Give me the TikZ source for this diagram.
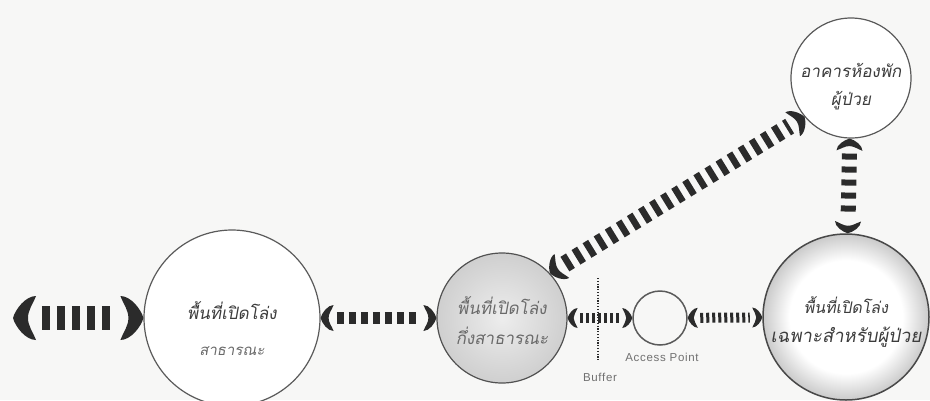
\documentclass[tikz,border=0pt]{standalone}
\usepackage{fontspec}
\setmainfont{Liberation Sans}
\newfontfamily\thaifont[Script=Thai,FakeSlant=0.18]{Loma}
\newfontfamily\tagfont[LetterSpace=6]{Liberation Sans}
\usetikzlibrary{arrows.meta,calc}

\definecolor{paper}{HTML}{F7F7F6}
\definecolor{rim}{HTML}{5A5A5A}
\definecolor{barcol}{HTML}{2B2B2B}
\definecolor{inkA}{HTML}{3C3C3C}
\definecolor{inkB}{HTML}{6A6A6A}
\definecolor{labelgray}{HTML}{707070}
\definecolor{shadeIn}{HTML}{EDEDED}
\definecolor{shadeOut}{HTML}{CFCFCF}
\definecolor{glowOut}{HTML}{CACACA}

% soft grey disc, lighter in the middle
\pgfdeclareradialshading{semidisc}{\pgfpoint{0bp}{0bp}}{%
  color(0bp)=(shadeIn); color(25bp)=(shadeOut); color(50bp)=(shadeOut)}
% white disc with a grey rim glow
\pgfdeclareradialshading{rimglow}{\pgfpoint{0bp}{0bp}}{%
  color(0bp)=(white); color(17bp)=(white); color(25bp)=(glowOut); color(50bp)=(glowOut)}

% crescent-shaped end cap for the dashed links
\pgfdeclarearrow{
  name = Crescent,
  parameters = {\the\pgfarrowlength,\the\pgfarrowwidth,\the\pgfarrowinset},
  setup code = {
    \pgfarrowssettipend{0pt}
    \pgfarrowssetlineend{-1.25\pgfarrowlength}
    \pgfarrowshullpoint{0pt}{0pt}
    \pgfarrowsupperhullpoint{-\pgfarrowlength}{.5\pgfarrowwidth}
    \pgfarrowssavethe\pgfarrowlength
    \pgfarrowssavethe\pgfarrowwidth
    \pgfarrowssavethe\pgfarrowinset
  },
  drawing code = {
    \pgfpathmoveto{\pgfqpoint{0pt}{0pt}}
    \pgfpathcurveto{\pgfqpoint{-.1\pgfarrowlength}{.2\pgfarrowwidth}}{\pgfqpoint{-.55\pgfarrowlength}{.5\pgfarrowwidth}}{\pgfqpoint{-\pgfarrowlength}{.5\pgfarrowwidth}}
    \pgfpathcurveto{\pgfqpoint{-.85\pgfarrowlength}{.3\pgfarrowwidth}}{\pgfqpoint{-\pgfarrowinset}{.18\pgfarrowwidth}}{\pgfqpoint{-\pgfarrowinset}{0pt}}
    \pgfpathcurveto{\pgfqpoint{-\pgfarrowinset}{-.18\pgfarrowwidth}}{\pgfqpoint{-.85\pgfarrowlength}{-.3\pgfarrowwidth}}{\pgfqpoint{-\pgfarrowlength}{-.5\pgfarrowwidth}}
    \pgfpathcurveto{\pgfqpoint{-.55\pgfarrowlength}{-.5\pgfarrowwidth}}{\pgfqpoint{-.1\pgfarrowlength}{-.2\pgfarrowwidth}}{\pgfqpoint{0pt}{0pt}}
    \pgfpathclose
    \pgfusepathqfill
  },
  defaults = {length=10pt, width=20pt, inset=5pt}
}

\tikzset{
  zone/.style={circle, draw=rim, line width=1.2pt, inner sep=0pt},
  thai/.style={font=\thaifont\fontsize{17}{#1}\selectfont, inner sep=0pt, align=center},
  thai/.default=30pt,
  tag/.style={font=\tagfont\fontsize{11.5}{11.5}\selectfont, text=labelgray, inner sep=0pt},
  link/.style={draw=barcol, line cap=butt},
  linkXL/.style={link, line width=24pt, dash pattern=on 8pt off 7pt,
    arrows={Crescent[length=23pt,width=44pt,inset=15pt]-Crescent[length=23pt,width=44pt,inset=15pt]}},
  linkM/.style={link, line width=12pt, dash pattern=on 7pt off 5pt,
    arrows={Crescent[length=13pt,width=26pt,inset=8pt]-Crescent[length=13pt,width=26pt,inset=8pt]}},
  linkS/.style={link, line width=10pt, dash pattern=on 3pt off 3pt,
    arrows={Crescent[length=10pt,width=20pt,inset=6pt]-Crescent[length=10pt,width=20pt,inset=6pt]}},
  linkV/.style={link, line width=15pt, dash pattern=on 6pt off 7pt,
    arrows={Crescent[length=12pt,width=26pt,inset=7.5pt]-Crescent[length=12pt,width=26pt,inset=7.5pt]}},
  linkD/.style={link, line width=17pt, dash pattern=on 6.5pt off 6.5pt,
    arrows={Crescent[length=14pt,width=28pt,inset=9pt]-Crescent[length=14pt,width=28pt,inset=9pt]}},
}

\begin{document}
\begin{tikzpicture}[x=1pt, y=-1pt]
  \useasboundingbox (0,0) rectangle (930,400);
  \clip (0,0) rectangle (930,400);
  \fill[paper] (0,0) rectangle (930,400);

  % zones
  \node[zone, minimum size=176pt, fill=white] (pub) at (232,318) {};
  \node[zone, minimum size=130pt, shading=semidisc, draw=rim!90!black] (semi) at (502,318) {};
  \node[zone, minimum size=54pt, line width=1.5pt] (ap) at (660,318) {};
  \node[zone, minimum size=166pt, shading=rimglow, line width=1.5pt, draw=rim!80!black] (pat) at (846,317) {};
  \node[zone, minimum size=120pt, fill=white] (ward) at (851,78) {};

  % zone names
  \node[thai=36pt, text=inkA] (pubName) at (232,329)
    {พื้นที่เปิดโล่ง\\{\fontsize{15}{36}\selectfont\color{inkB}สาธารณะ}};
  \node[thai, text=inkB] (semiName) at (502,321) {พื้นที่เปิดโล่ง\\กึ่งสาธารณะ};
  \node[thai=29pt, text=inkA] (patName) at (846,322)
    {{\fontsize{16}{29}\selectfont พื้นที่เปิดโล่ง}\\{\fontsize{18.5}{29}\selectfont เฉพาะสำหรับผู้ป่วย}};
  \node[thai=28pt, text=inkA] (wardName) at (851,87) {อาคารห้องพัก\\ผู้ป่วย};

  % buffer line
  \coordinate (bufTop) at (598,278);
  \coordinate (bufBot) at (598,360);
  \draw[barcol, line width=1.4pt, dash pattern=on 1.2pt off 1.6pt] (bufTop) -- (bufBot);
  \node[tag] (bufTag) at (600,377) {Buffer};
  \node[tag] (apTag) at (662,357) {Access Point};

  % links
  \coordinate (outside) at (13,318);
  \draw[linkXL] (outside) -- (pub);
  \draw[linkM] (pub) -- (semi);
  \draw[linkS] (semi) -- (ap);
  \draw[linkS] (ap) -- (pat);
  \draw[linkV] (ward) -- (pat);
  \draw[linkD] (semi.43) -- (ward.220);
\end{tikzpicture}
\end{document}
